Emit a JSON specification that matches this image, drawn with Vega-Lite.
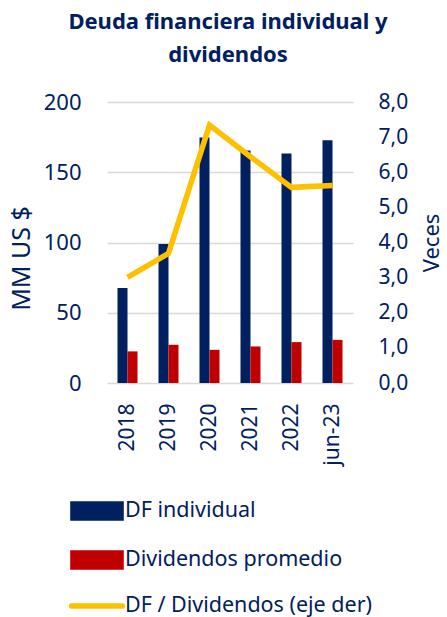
{
  "$schema": "https://vega.github.io/schema/vega-lite/v6.json",
  "width": 246,
  "height": 281,
  "autosize": "none",
  "padding": {"left": 107, "top": 102, "right": 94, "bottom": 234},
  "background": "white",
  "config": {
    "font": "Noto Sans",
    "view": {"stroke": null},
    "axis": {"labelColor": "#002060", "titleColor": "#002060", "labelFont": "Noto Sans", "titleFont": "Noto Sans", "titleFontWeight": "normal"}
  },
  "title": {
    "text": ["Deuda financiera individual y", "dividendos"],
    "fontSize": 22,
    "fontWeight": "bold",
    "color": "#002060",
    "anchor": "middle",
    "dx": -2,
    "lineHeight": 33,
    "offset": 24
  },
  "datasets": {
    "barras": [
      {"periodo": "2018", "serie": "DF individual", "valor": 67.7},
      {"periodo": "2019", "serie": "DF individual", "valor": 98.9},
      {"periodo": "2020", "serie": "DF individual", "valor": 174.7},
      {"periodo": "2021", "serie": "DF individual", "valor": 165.5},
      {"periodo": "2022", "serie": "DF individual", "valor": 163.3},
      {"periodo": "jun-23", "serie": "DF individual", "valor": 172.8},
      {"periodo": "2018", "serie": "Dividendos promedio", "valor": 22.5},
      {"periodo": "2019", "serie": "Dividendos promedio", "valor": 27.2},
      {"periodo": "2020", "serie": "Dividendos promedio", "valor": 23.6},
      {"periodo": "2021", "serie": "Dividendos promedio", "valor": 26.0},
      {"periodo": "2022", "serie": "Dividendos promedio", "valor": 29.1},
      {"periodo": "jun-23", "serie": "Dividendos promedio", "valor": 30.7}
    ],
    "linea": [
      {"periodo": "2018", "serie": "DF / Dividendos (eje der)", "veces": 3.01},
      {"periodo": "2019", "serie": "DF / Dividendos (eje der)", "veces": 3.69},
      {"periodo": "2020", "serie": "DF / Dividendos (eje der)", "veces": 7.34},
      {"periodo": "2021", "serie": "DF / Dividendos (eje der)", "veces": 6.44},
      {"periodo": "2022", "serie": "DF / Dividendos (eje der)", "veces": 5.57},
      {"periodo": "jun-23", "serie": "DF / Dividendos (eje der)", "veces": 5.62}
    ]
  },
  "layer": [
    {
      "data": {"name": "barras"},
      "mark": {"type": "bar"},
      "encoding": {
        "x": {
          "field": "periodo", "type": "nominal", "sort": null,
          "scale": {"paddingInner": 0.512, "paddingOuter": 0.256},
          "axis": {"title": null, "labelAngle": -90, "labelAlign": "right", "labelBaseline": "middle", "labelFontSize": 21, "labelPadding": 20, "domain": false, "ticks": false}
        },
        "xOffset": {"field": "serie", "type": "nominal", "sort": ["DF individual", "Dividendos promedio"], "scale": {"paddingInner": 0, "paddingOuter": 0}},
        "y": {
          "field": "valor", "type": "quantitative",
          "scale": {"domain": [0, 200]},
          "axis": {"orient": "left", "title": "MM US $", "titleFontSize": 25, "titlePadding": 9, "titleY": 156, "values": [0, 50, 100, 150, 200], "labelFontSize": 22, "labelPadding": 26, "ticks": false, "domain": false, "grid": true, "gridColor": "#D9D9D9", "gridWidth": 1.5}
        },
        "color": {
          "field": "serie", "type": "nominal",
          "scale": {"domain": ["DF individual", "Dividendos promedio", "DF / Dividendos (eje der)"], "range": ["#002060", "#C00000", "#FFC000"]},
          "legend": {
            "title": null,
            "orient": "none",
            "legendX": -26,
            "legendY": 393,
            "direction": "vertical",
            "labelFontSize": 21.5,
            "labelColor": "#002060",
            "labelFont": "Noto Sans",
            "labelLimit": 400,
            "symbolSize": 676,
            "labelOffset": 12,
            "rowPadding": 11,
            "encode": {
              "symbols": {
                "update": {
                  "shape": {"signal": "datum.value === 'DF / Dividendos (eje der)' ? 'M-1.95,0H1.95' : 'M-1.85,-0.54H1.85V0.54H-1.85Z'"},
                  "fill": {"signal": "datum.value === 'DF / Dividendos (eje der)' ? 'transparent' : (datum.value === 'DF individual' ? '#002060' : '#C00000')"},
                  "stroke": {"signal": "datum.value === 'DF / Dividendos (eje der)' ? '#FFC000' : 'transparent'"},
                  "strokeWidth": {"value": 5.5},
                  "strokeCap": {"value": "round"},
                  "opacity": {"value": 1}
                }
              }
            }
          }
        }
      }
    },
    {
      "data": {"name": "linea"},
      "mark": {"type": "line", "strokeWidth": 5.5, "strokeJoin": "miter", "strokeCap": "butt"},
      "encoding": {
        "x": {"field": "periodo", "type": "nominal", "sort": null},
        "y": {
          "field": "veces", "type": "quantitative",
          "scale": {"domain": [0, 8]},
          "axis": {"orient": "right", "title": "Veces", "titleAngle": -90, "titleFontSize": 22, "titlePadding": 36, "values": [0, 1, 2, 3, 4, 5, 6, 7, 8], "labelExpr": "replace(format(datum.value, '.1f'), '.', ',')", "labelFontSize": 21, "labelPadding": 25, "ticks": false, "domain": false, "grid": false}
        },
        "color": {"field": "serie", "type": "nominal"}
      }
    }
  ],
  "resolve": {"scale": {"y": "independent"}}
}
